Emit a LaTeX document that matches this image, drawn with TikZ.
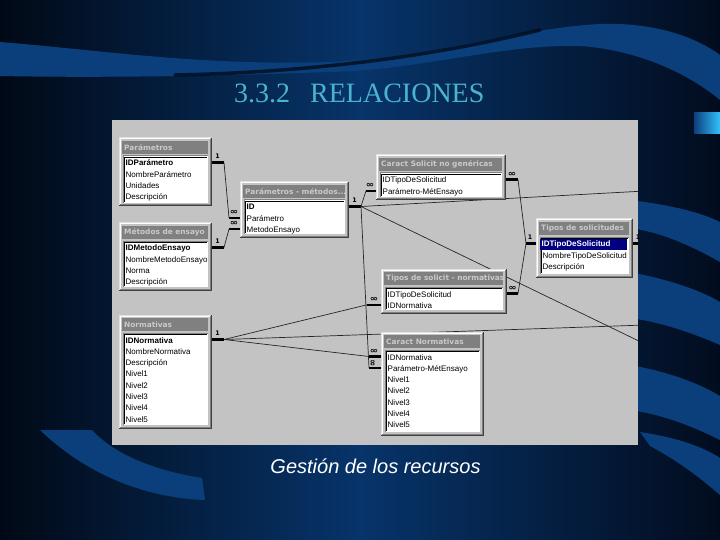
\documentclass[tikz,border=0pt]{standalone}
\usepackage{fontspec}
\setmainfont{Liberation Serif}
\newfontfamily\arialf{Liberation Sans}
\newfontfamily\headf{DejaVu Sans}
\usetikzlibrary{calc}
\pgfdeclarelayer{bg}
\pgfdeclarelayer{lines}
\pgfsetlayers{bg,lines,main}

\definecolor{bgdark}{HTML}{010916}
\definecolor{bgdarkR}{HTML}{020C1E}
\definecolor{bgmid}{HTML}{07346A}
\definecolor{bandc}{HTML}{0B3F7C}
\definecolor{panelc}{HTML}{C3C3C3}
\definecolor{tbarc}{HTML}{808080}
\definecolor{ttxtc}{HTML}{CACACA}
\definecolor{titlec}{HTML}{4BB4CC}
\definecolor{selrow}{HTML}{000080}
\definecolor{shadec}{HTML}{404040}

\tikzset{
  tframe/.style={fill=panelc, draw=none, inner sep=0pt, outer sep=0pt},
  hione/.style={draw=white!88!black, line width=1pt},
  shone/.style={draw=shadec, line width=1pt},
  shtwo/.style={draw=tbarc, line width=1pt},
  tbarbox/.style={fill=tbarc, inner sep=0pt, outer sep=0pt, minimum height=13pt},
  thead/.style={text=ttxtc, font=\headf\bfseries\fontsize{7.4}{8}\selectfont, inner sep=0pt},
  tlist/.style={fill=white, inner sep=0pt, outer sep=0pt},
  rowtxt/.style={font=\arialf\fontsize{8}{9}\selectfont, inner sep=0pt, text=black},
  rel/.style={draw=black!85, line width=0.7pt},
  stubline/.style={draw=black, line width=2.2pt},
  one/.style={font=\headf\bfseries\fontsize{6.3}{7}\selectfont, inner sep=0pt},
  many/.style={font=\headf\bfseries\fontsize{8}{8}\selectfont, inner sep=0pt, xscale=1.25},
}

\newcommand\hl[1]{{\setlength\fboxsep{0pt}\hspace{-2.5pt}\colorbox{selrow}{\makebox[87pt][l]{\rule[-2.7pt]{0pt}{10.5pt}\hspace{1.5pt}\color{white}\bfseries #1}}}}

\newcommand\dbtab[7]{%
  \node[tframe, anchor=north west, minimum width=#4pt, minimum height=#5pt] (#1) at (#2,#3) {};
  \draw[hione] (#1.south west) -- (#1.north west) -- (#1.north east);
  \draw[shone] (#1.south west) -- (#1.south east) -- (#1.north east);
  \draw[white, line width=1pt] ([xshift=1pt,yshift=1pt]#1.south west) -- ([xshift=1pt,yshift=-1pt]#1.north west) -- ([xshift=-1pt,yshift=-1pt]#1.north east);
  \draw[shtwo] ([xshift=1pt,yshift=1pt]#1.south west) -- ([xshift=-1pt,yshift=1pt]#1.south east) -- ([xshift=-1pt,yshift=-1pt]#1.north east);
  \node[tbarbox, anchor=north west, minimum width={#4pt-6pt}] (#1-bar) at (#2+3,#3+3) {};
  \begin{scope}
    \clip (#1-bar.north west) rectangle (#1-bar.south east);
    \node[thead, anchor=west] (#1-head) at ([xshift=2pt]#1-bar.west) {#6};
  \end{scope}
  \node[tlist, anchor=north west, minimum width={#4pt-7pt}, minimum height={#5pt-21pt}] (#1-list) at (#2+4,#3+18) {};
  \draw[shtwo] (#1-list.south west) -- (#1-list.north west) -- (#1-list.north east);
  \draw[black, line width=0.6pt] ([xshift=1pt,yshift=1pt]#1-list.south west) -- ([xshift=1pt,yshift=-1pt]#1-list.north west) -- ([xshift=-1pt,yshift=-1pt]#1-list.north east);
  \foreach \r [count=\i] in {#7} {%
    \coordinate (#1-c\i) at (#2, #3+13.2+11.3*\i);
    \node[rowtxt, anchor=base west] (#1-\i) at (#2+6.5, #3+16.7+11.3*\i) {\r};
  }%
}

\begin{document}
\begin{tikzpicture}[x=1pt,y=-1pt]
\useasboundingbox (0,0) rectangle (720,540);

\begin{pgfonlayer}{bg}
  % background
  \shade[left color=bgdark, right color=bgdarkR, middle color=bgmid] (0,0) rectangle (720,540);
  % top wave band
  \fill[bandc] (0,42) .. controls (100,50) and (200,66) .. (330,62)
     .. controls (430,58) and (520,28) .. (600,24)
     .. controls (660,22) and (700,40) .. (720,55) -- (720,100)
     .. controls (690,75) and (640,50) .. (580,46)
     .. controls (500,44) and (420,70) .. (330,72)
     .. controls (220,76) and (100,78) .. (0,76) -- cycle;
  \draw[bgdark, line width=3.5pt, line cap=round, opacity=0.75] (175,75) .. controls (280,73) and (410,62) .. (540,30);
  % right side bands
  \fill[bandc] (630,200) .. controls (670,205) and (700,212) .. (720,222) -- (720,262) .. controls (690,245) and (660,232) .. (630,228) -- cycle;
  \fill[bandc] (630,272) .. controls (670,280) and (700,290) .. (720,302) -- (720,345) .. controls (690,332) and (660,322) .. (630,318) -- cycle;
  \fill[bandc] (630,365) .. controls (670,372) and (700,384) .. (720,396) -- (720,440) .. controls (690,425) and (660,414) .. (630,410) -- cycle;
  \fill[bandc] (640,432) .. controls (680,438) and (705,448) .. (720,458) -- (720,495) .. controls (700,478) and (680,462) .. (650,446) -- cycle;
  % bottom-left arc band
  \fill[bandc] (40,430) .. controls (90,478) and (150,498) .. (205,500) -- (202,478) .. controls (150,470) and (112,452) .. (92,430) -- cycle;
  % cyan block
  \shade[left color=bandc, right color=cyan!70!blue!80!white] (694,113) rectangle (720,134);
  % screenshot panel
  \node[fill=panelc, inner sep=0pt, outer sep=0pt, minimum width=526pt, minimum height=325pt, anchor=north west] (panel) at (112,120) {};
\end{pgfonlayer}

% title and caption
\node[font=\fontsize{28}{30}\selectfont, text=titlec, anchor=base west, inner sep=0pt] (title) at (234,103) {3.3.2\hspace{20pt}RELACIONES};
\node[font=\arialf\itshape\fontsize{20}{24}\selectfont, text=white, anchor=base, inner sep=0pt] (caption) at (375.5,473) {Gestión de los recursos};

% tables
\dbtab{pT}{119}{138}{92}{68}{Parámetros}{\textbf{IDParámetro},NombreParámetro,Unidades,Descripción}
\dbtab{mT}{119}{223}{92}{67}{Métodos de ensayo}{\textbf{IDMetodoEnsayo},NombreMetodoEnsayo,Norma,Descripción}
\dbtab{pmT}{240}{182}{108}{55}{Parámetros - métodos...}{\textbf{ID},Parámetro,MetodoEnsayo}
\dbtab{csT}{376}{155}{129}{45}{Caract Solicit no genéricas}{IDTipoDeSolicitud,Parámetro-MétEnsayo}
\dbtab{tsT}{536}{219}{96}{58}{Tipos de solicitudes}{\hl{IDTipoDeSolicitud},NombreTipoDeSolicitud,Descripción}
\dbtab{tnT}{381}{269}{125}{44}{Tipos de solicit - normativas}{IDTipoDeSolicitud,IDNormativa}
\dbtab{cnT}{381}{332}{102}{103}{Caract Normativas}{IDNormativa,Parámetro-MétEnsayo,Nivel1,Nivel2,Nivel3,Nivel4,Nivel5}
\dbtab{nT}{119}{315}{92}{113}{Normativas}{\textbf{IDNormativa},NombreNormativa,Descripción,Nivel1,Nivel2,Nivel3,Nivel4,Nivel5}

% relationship lines
\begin{pgfonlayer}{lines}
\begin{scope}
  \clip (panel.north west) rectangle (panel.south east);
  % stub start points
  \coordinate (sA) at (pT.east |- pT-c1);
  \coordinate (sM) at (mT.east |- mT-c1);
  \coordinate (sP2) at (pmT.west |- pmT-c2);
  \coordinate (sP3) at (pmT.west |- pmT-c3);
  \coordinate (sB) at (pmT.east |- pmT-c1);
  \coordinate (sCL) at (csT.west |- csT-c2);
  \coordinate (sCR) at (csT.east |- csT-c1);
  \coordinate (sTL) at (tsT.west |- tsT-c1);
  \coordinate (sTR) at (tsT.east |- tsT-c1);
  \coordinate (sNL) at (tnT.west |- tnT-c2);
  \coordinate (sNR) at (tnT.east |- tnT-c1);
  \coordinate (sK1) at (cnT.west |- cnT-c1);
  \coordinate (sK2) at (cnT.west |- cnT-c2);
  \coordinate (sC) at (nT.east |- nT-c1);
  % stubs
  \draw[stubline] (sA) -- ++(13,0) coordinate (jA);
  \draw[stubline] (sM) -- ++(13,0) coordinate (jM);
  \draw[stubline] (sP2) -- ++(-11,0) coordinate (kP2);
  \draw[stubline] (sP3) -- ++(-11,0) coordinate (kP3);
  \draw[stubline] (sB) -- ++(13,0) coordinate (jB);
  \draw[stubline] (sCL) -- ++(-10,0) coordinate (kCL);
  \draw[stubline] (sCR) -- ++(13,0) coordinate (kCR);
  \draw[stubline] (sTL) -- ++(-10,0) coordinate (jD);
  \draw[stubline] (sTR) -- ++(10,0) coordinate (jE);
  \draw[stubline] (sNL) -- ++(-14,0) coordinate (kNL);
  \draw[stubline] (sNR) -- ++(12,0) coordinate (kNR);
  \draw[stubline] (sK1) -- ++(-12,0) coordinate (kK1);
  \draw[stubline] (sK2) -- ++(-12,0) coordinate (kK2);
  \draw[stubline] (sC) -- ++(13,0) coordinate (jC);
  % edge points (tables off screen)
  \coordinate (eA) at (645,191);
  \coordinate (eB) at (645,344);
  \coordinate (eC) at (645,325);
  % lines
  \draw[rel] (jA) -- (kP2);
  \draw[rel] (jM) -- (kP3);
  \draw[rel] (jB) -- (kCL);
  \draw[rel] (jB) -- (eA);
  \draw[rel] (jB) -- (eB);
  \draw[rel] (jB) -- (kK2);
  \draw[rel] (jC) -- (kNL);
  \draw[rel] (jC) -- (eC);
  \draw[rel] (jC) -- (kK1);
  \draw[rel] (kCR) -- (jD);
  \draw[rel] (kNR) -- (jD);
  % cardinality labels
  \node[one] (lA) at ([shift={(6.5,-6)}]sA) {1};
  \node[one] (lM) at ([shift={(6.5,-6)}]sM) {1};
  \node[many] (lP2) at ([shift={(-6,-5.5)}]sP2) {∞};
  \node[many] (lP3) at ([shift={(-6,-5.5)}]sP3) {∞};
  \node[one] (lB) at ([shift={(6.5,-6)}]sB) {1};
  \node[many] (lCL) at ([shift={(-6,-5.5)}]sCL) {∞};
  \node[many] (lCR) at ([shift={(7,-5.5)}]sCR) {∞};
  \node[one] (lTL) at ([shift={(-6,-6)}]sTL) {1};
  \node[one] (lTR) at ([shift={(6,-6)}]sTR) {1};
  \node[many] (lNL) at ([shift={(-7,-5.5)}]sNL) {∞};
  \node[many] (lNR) at ([shift={(6.5,-5.5)}]sNR) {∞};
  \node[many] (lK1) at ([shift={(-7,-5.5)}]sK1) {∞};
  \node[many, rotate=90] (lK2) at ([shift={(-8,-5)}]sK2) {∞};
  \node[one] (lC) at ([shift={(6.5,-6)}]sC) {1};
\end{scope}
\end{pgfonlayer}
\end{tikzpicture}
\end{document}
